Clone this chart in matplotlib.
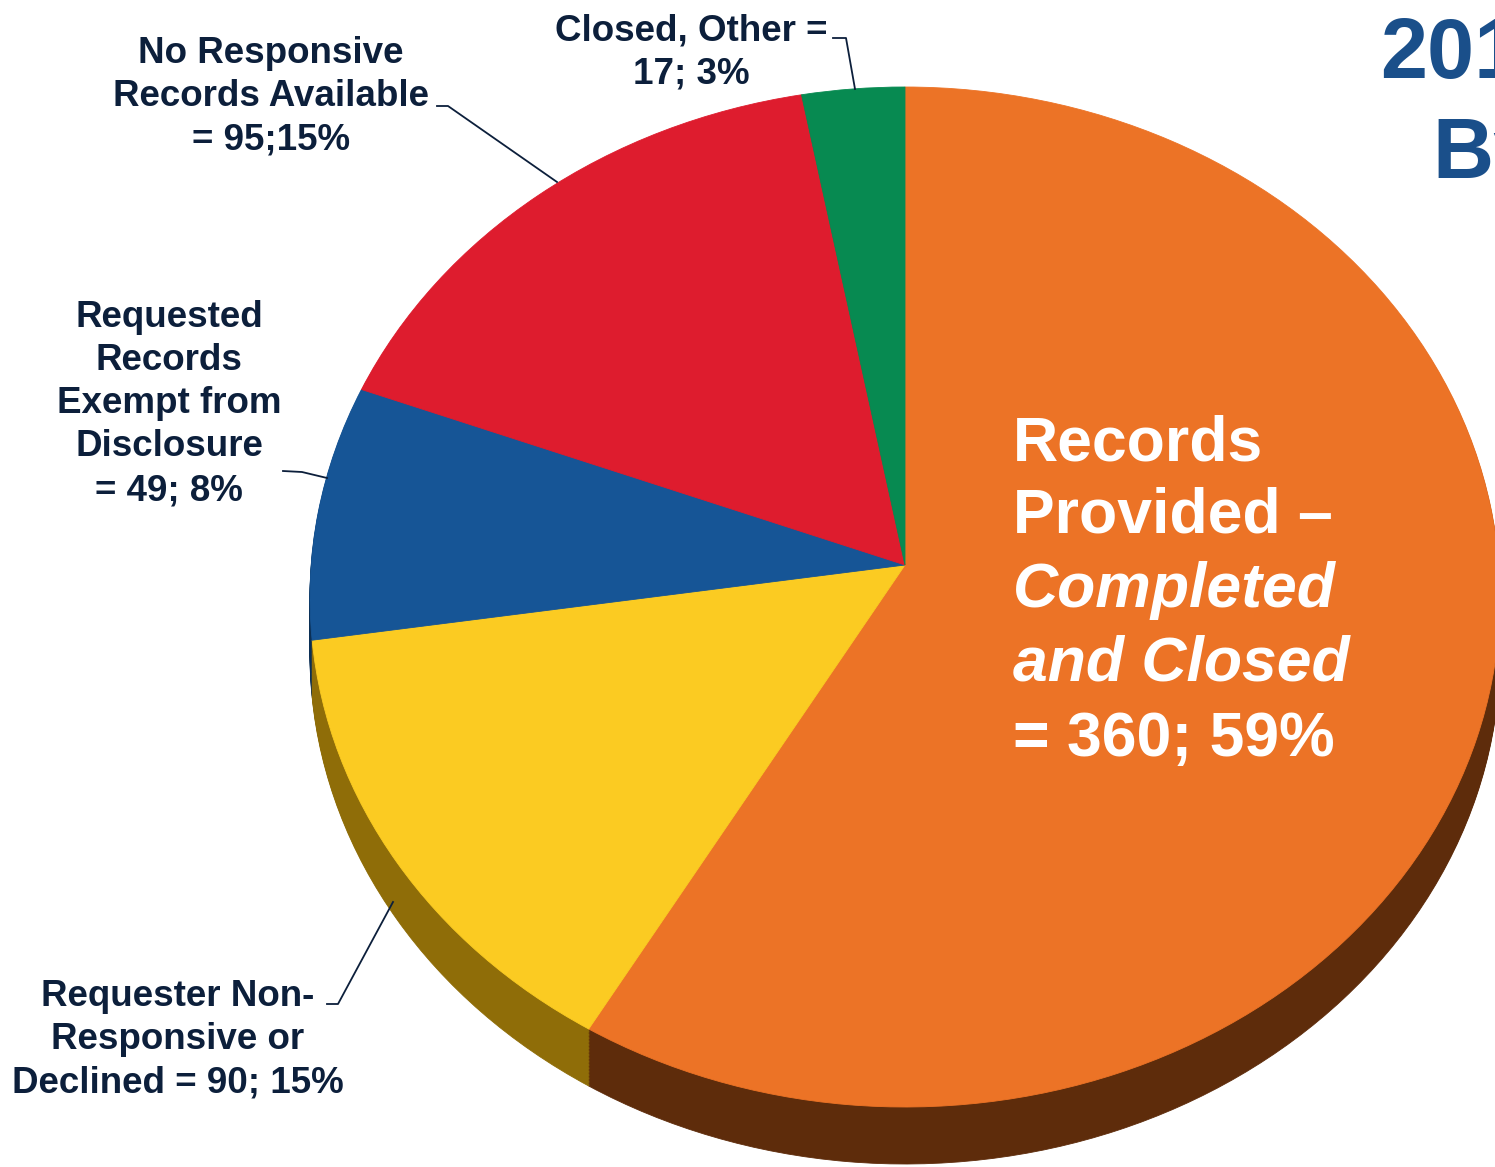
import numpy as np
import matplotlib.pyplot as plt
from matplotlib.patches import PathPatch
from matplotlib.path import Path

plt.rcParams['font.family'] = ['Liberation Sans', 'DejaVu Sans']

W, H = 1495, 1167

# data, in the order the slices run clockwise from 12 o'clock
categories = ['Records Provided - Completed and Closed',
              'Requester Non-Responsive or Declined',
              'Requested Records Exempt from Disclosure',
              'No Responsive Records Available',
              'Closed, Other']
counts = [360, 90, 49, 95, 17]
percents = [59, 15, 8, 15, 3]

top_colors = ['#ec7326', '#fbcb22', '#165596', '#de1c2e', '#078a51']
side_colors = ['#5e2c0b', '#8f6d08', '#0b2f55', '#7a0d17', '#04482a']

navy = '#0c1f3b'

fig = plt.figure(figsize=(W / 100, H / 100), dpi=100)
ax = fig.add_axes([0, 0, 1, 1])

# ellipse of the top face in pixels
cx, cy, rx, ry = 905, 597, 595, 510
apex_y = 565  # the tilted view puts the slice tips above the ellipse centre


def dx(x):
    return (x - cx) / rx


def dy(y):
    return (cy - y) / ry


# side of the 3d pie: stack of darker pies shifted down
depth = 57 / ry
n = 40
for k in range(n, 0, -1):
    off = depth * k / n
    wedges, _ = ax.pie(counts, colors=side_colors, startangle=90, counterclock=False,
                       center=(0, -off), radius=1, wedgeprops=dict(linewidth=0.6))
    for w in wedges:
        w.set_edgecolor(w.get_facecolor())

wedges, _ = ax.pie(counts, colors=top_colors, startangle=90, counterclock=False,
                   center=(0, 0), radius=1, wedgeprops=dict(linewidth=0.6))
# move the tip of every top slice up to the apex
for w in wedges:
    path = w.get_path()
    v = path.vertices.copy()
    tip = np.all(np.abs(v) < 1e-9, axis=1)
    v[tip] = (0, dy(apex_y))
    fc = w.get_facecolor()
    w.set_visible(False)
    ax.add_patch(PathPatch(Path(v, path.codes), facecolor=fc, edgecolor=fc, lw=0.6))

ax.set_aspect('auto')
ax.set_xlim(dx(0), dx(W))
ax.set_ylim(dy(H), dy(0))
ax.axis('off')

# leader lines
leaders = [
    [(833, 38), (846, 38), (855, 89)],
    [(437, 106), (448, 106), (557, 182)],
    [(283, 471), (302, 472), (327, 478)],
    [(327, 1004), (338, 1004), (393, 902)],
]
for pts in leaders:
    ax.plot([dx(p[0]) for p in pts], [dy(p[1]) for p in pts], color=navy, lw=1.3)


def lines(x, ys, texts, size=26.5, **kw):
    em = size * 100 / 72
    for y, s in zip(ys, texts):
        fig.text(x / W, 1 - (y + 0.36 * em) / H, s, ha=kw.get('ha', 'center'),
                 va='baseline', fontsize=size, fontweight='bold',
                 style=kw.get('style', 'normal'), color=kw.get('color', navy))


lines(691, [27, 70], ['Closed, Other =', '%d; %d%%' % (counts[4], percents[4])])
lines(271, [50, 93, 136], ['No Responsive', 'Records Available',
                           '= %d;%d%%' % (counts[3], percents[3])])
lines(169, [314, 357, 400, 443, 487], ['Requested', 'Records', 'Exempt from', 'Disclosure',
                                       '= %d; %d%%' % (counts[2], percents[2])])
lines(178, [993, 1036, 1079], ['Requester Non-', 'Responsive or',
                               'Declined = %d; %d%%' % (counts[1], percents[1])])

# big label inside the orange slice
lines(1013, [438, 510], ['Records', 'Provided \u2013'], size=45, ha='left', color='white')
lines(1013, [585, 658], ['Completed', 'and Closed'], size=45, ha='left', color='white',
      style='italic')
lines(1013, [733], ['= %d; %d%%' % (counts[0], percents[0])], size=45, ha='left',
      color='white')

# title, cut off at the right edge as in the original slide
fig.text(1380 / W, 1 - 78 / H, '2017', fontsize=61, fontweight='bold', color='#1a4f8a',
         ha='left', va='baseline')
fig.text(1432 / W, 1 - 178 / H, 'By', fontsize=61, fontweight='bold', color='#1a4f8a',
         ha='left', va='baseline')

fig.savefig('out.png', dpi=100)
